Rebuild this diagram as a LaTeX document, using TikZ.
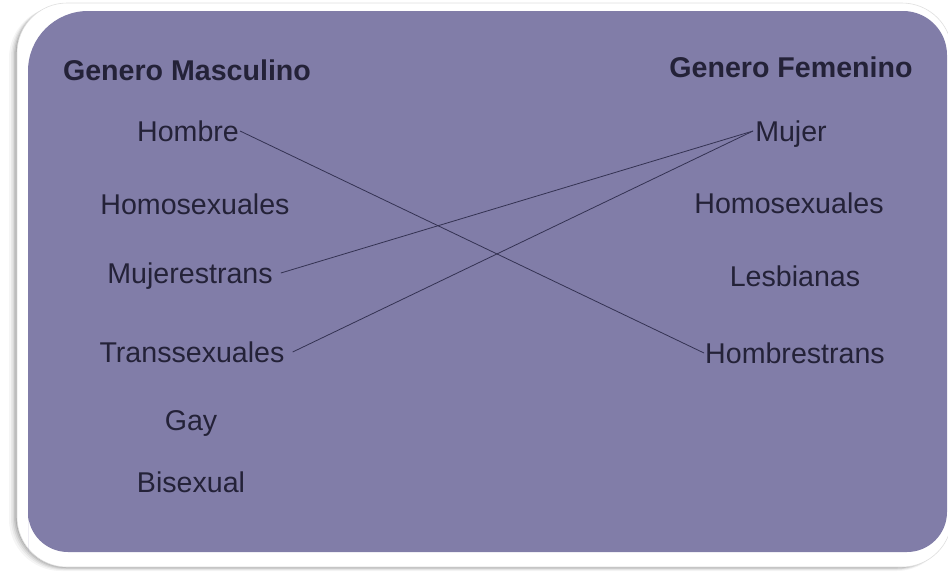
\documentclass[tikz,border=0pt]{standalone}
\usepackage{fontspec}
\setmainfont{Liberation Sans}
\usetikzlibrary{calc}
\definecolor{panel}{RGB}{129,125,168}
\definecolor{ink}{RGB}{36,34,56}
\definecolor{wire}{RGB}{52,50,82}
\begin{document}
\begin{tikzpicture}[x=1pt,y=-1pt,
  lbl/.style={font=\fontsize{28.6}{30}\selectfont, text=ink, inner sep=0pt, text height=20pt, text depth=0pt, anchor=center},
  head/.style={font=\fontsize{28.6}{30}\selectfont\bfseries, text=ink, inner sep=0pt, text height=20pt, text depth=0pt, anchor=center},
  wirestyle/.style={draw=wire, line width=0.8pt}]
\useasboundingbox (0,0) rectangle (948,571);
% shadow
\foreach \o/\op in {8/0.04,6/0.05,4.5/0.07,3/0.09,1.5/0.12}{
  \fill[black,opacity=\op,rounded corners=52] (17-\o,3+\o*0.4) rectangle (950-\o*0.2,567+\o*0.5);
}
% white frame
\fill[white,rounded corners=50] (17,3) rectangle (952,567);
\draw[gray!25,line width=0.6pt,rounded corners=50] (17,3) rectangle (952,567);
% purple panel
\fill[panel] (28,552) -- (28,71) arc[start angle=180,end angle=270,radius=60] -- (903,11)
  arc[start angle=270,end angle=360,radius=44] -- (947,512)
  arc[start angle=0,end angle=90,radius=40] -- (68,552)
  arc[start angle=90,end angle=180,radius=40] -- cycle;
% left column
\node[head] (gm) at (187,70) {Genero Masculino};
\node[lbl] (hombre) at (188,131) {Hombre};
\node[lbl] (homoL) at (195,204) {Homosexuales};
\node[lbl] (mtrans) at (190,273) {Mujerestrans};
\node[lbl] (trans) at (192,352) {Transsexuales};
\node[lbl] (gay) at (191,420) {Gay};
\node[lbl] (bi) at (191,482) {Bisexual};
% right column
\node[head] (gf) at (791,67) {Genero Femenino};
\node[lbl] (mujer) at (791,131) {Mujer};
\node[lbl] (homoR) at (789,203) {Homosexuales};
\node[lbl] (lesb) at (795,276) {Lesbianas};
\node[lbl] (htrans) at (795,353) {Hombrestrans};
% connectors
\draw[wirestyle] ($(hombre.east)+(1,0)$) -- ($(htrans.west)+(-1,0)$);
\draw[wirestyle] ($(mtrans.east)+(8,0)$) -- ($(mujer.west)+(-2,0)$);
\draw[wirestyle] ($(trans.east)+(8,0)$) -- ($(mujer.west)+(-2,0)$);
\end{tikzpicture}
\end{document}
